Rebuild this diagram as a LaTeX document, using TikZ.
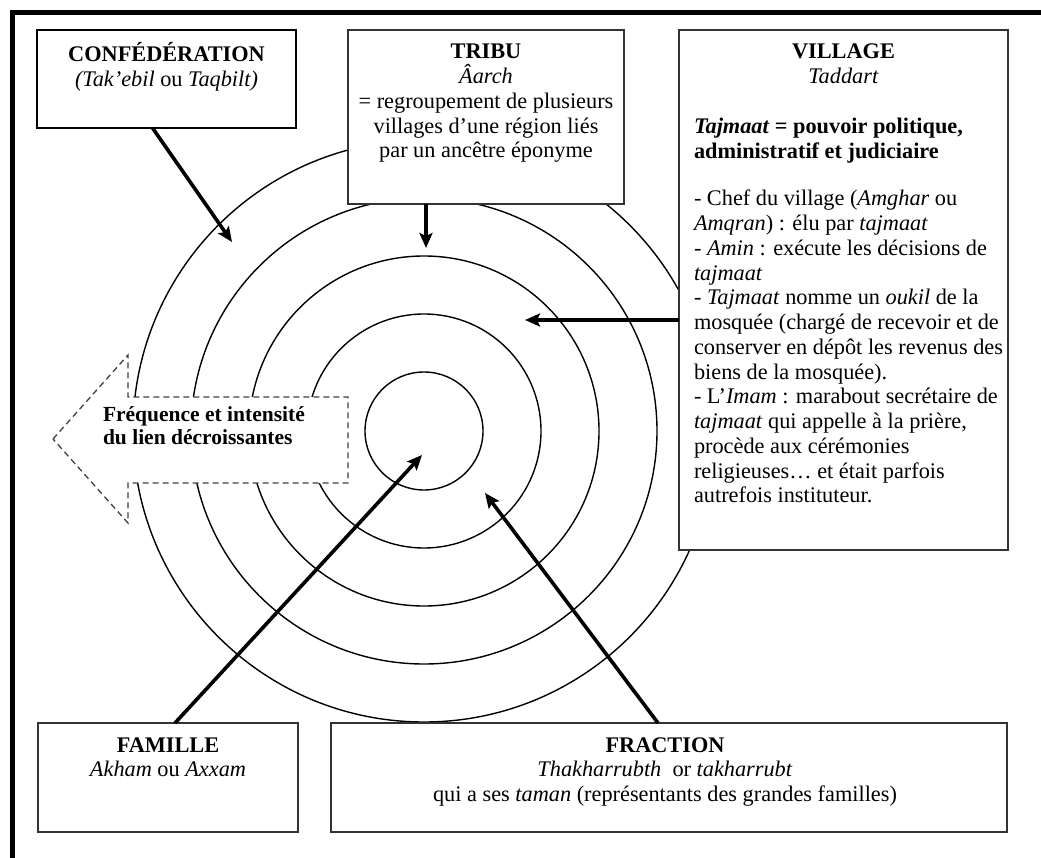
\documentclass[tikz,border=0pt]{standalone}
\usepackage{fontspec}
\setmainfont{Liberation Serif}
\usetikzlibrary{arrows.meta,calc}

% top-aligned text blocks: baseline of the block = baseline of its first line
\newcommand{\ctrpar}[2]{\parbox[t]{#1}{\centering #2}}
\newcommand{\leftpar}[2]{\parbox[t]{#1}{\raggedright #2}}

\tikzset{
  every node/.style={inner sep=0pt, outer sep=0pt},
  panel/.style={rectangle, draw=black!80, line width=1.2pt, fill=white},
  ring/.style={draw=black, line width=1.4pt},
  arr/.style={line width=3.6pt, -{Stealth[length=15pt,width=13pt,inset=3pt]}},
  txt/.style={font=\fontsize{22.3pt}{24.7pt}\selectfont, anchor=base},
  trendline/.style={draw=black!75, line width=1.3pt, dash pattern=on 6pt off 4pt, fill=white},
}

\begin{document}
\begin{tikzpicture}[x=1pt,y=-1pt]
\useasboundingbox (0,0) rectangle (1041,858);
\fill[white] (0,0) rectangle (1041,858);

% concentric rings
\foreach \r in {59,117,175,233,291}
  \draw[ring] (424,431) circle[radius=\r pt];

% outward arrow: decreasing frequency and intensity
\draw[trendline] (53,439) -- (128,355) -- (128,397) -- (348,397) -- (348,483)
  -- (128,483) -- (128,523) -- cycle;
\node[txt, anchor=base west, font=\fontsize{21.5pt}{23.5pt}\selectfont] (trend) at (103,421)
  {\leftpar{240pt}{\textbf{Fréquence et intensité}\\ \textbf{du lien décroissantes}}};

% panels
\node[panel, draw=black, line width=2pt, minimum width=259pt, minimum height=98pt] (conf) at (166.5,79) {};
\node[panel, minimum width=276pt, minimum height=174pt] (tribu) at (486,117) {};
\node[panel, minimum width=329pt, minimum height=520pt] (village) at (843.5,290) {};
\node[panel, minimum width=260pt, minimum height=109pt] (famille) at (168,777.5) {};
\node[panel, minimum width=676pt, minimum height=109pt] (fraction) at (669,777.5) {};

% panel texts
\node[txt] (conftxt) at (166.5,62)
  {\ctrpar{259pt}{\textbf{CONFÉDÉRATION}\\ \textit{(Tak’ebil} ou \textit{Taqbilt)}}};
\node[txt] (tributxt) at (486,59)
  {\ctrpar{276pt}{\textbf{TRIBU}\\ \textit{Âarch}\\ = regroupement de plusieurs\\
   villages d’une région liés\\ par un ancêtre éponyme}};
\node[txt] (villagetitle) at (843.5,59)
  {\ctrpar{329pt}{\textbf{VILLAGE}\\ \textit{Taddart}}};
\node[txt, anchor=base west] (villagerole) at (694,134)
  {\leftpar{310pt}{\textbf{\textit{Tajmaat} = pouvoir politique,}\\ \textbf{administratif et judiciaire}}};
\node[txt, anchor=base west, font=\fontsize{22.3pt}{24.75pt}\selectfont] (villagelist) at (694,206)
  {\leftpar{310pt}{- Chef du village (\textit{Amghar} ou\\
   \textit{Amqran}) : élu par \textit{tajmaat}\\
   - \textit{Amin} : exécute les décisions de\\
   \textit{tajmaat}\\
   - \textit{Tajmaat} nomme un \textit{oukil} de la\\
   mosquée (chargé de recevoir et de\\
   conserver en dépôt les revenus des\\
   biens de la mosquée).\\
   - L’\textit{Imam} : marabout secrétaire de\\
   \textit{tajmaat} qui appelle à la prière,\\
   procède aux cérémonies\\
   religieuses… et était parfois\\
   autrefois instituteur.}};
\node[txt] (familletxt) at (168,752)
  {\ctrpar{260pt}{\textbf{FAMILLE}\\ \textit{Akham} ou \textit{Axxam}}};
\node[txt] (fractiontxt) at (665,752)
  {\ctrpar{676pt}{\textbf{FRACTION}\\ \textit{Thakharrubth}~ or \textit{takharrubt}\\
   qui a ses \textit{taman} (représentants des grandes familles)}};

% arrow ends inside the rings
\coordinate (confEnd) at (232,242);
\coordinate (tribuEnd) at (426,248);
\coordinate (villageEnd) at (525,320);
\coordinate (familleEnd) at (422,455);
\coordinate (fractionEnd) at (485,493);

\draw[arr] ([xshift=115.5pt]conf.south west) -- (confEnd);
\draw[arr] ([xshift=78pt]tribu.south west) -- (tribuEnd);
\draw[arr] ([yshift=-30pt]village.west) -- (villageEnd);
\draw[arr] ([xshift=137pt]famille.north west) -- (familleEnd);
\draw[arr] ([xshift=327pt]fraction.north west) -- (fractionEnd);

% page frame, left and top edges
\draw[line width=5pt] (12,880) -- (12,12.5) -- (1060,12.5);
\end{tikzpicture}
\end{document}
